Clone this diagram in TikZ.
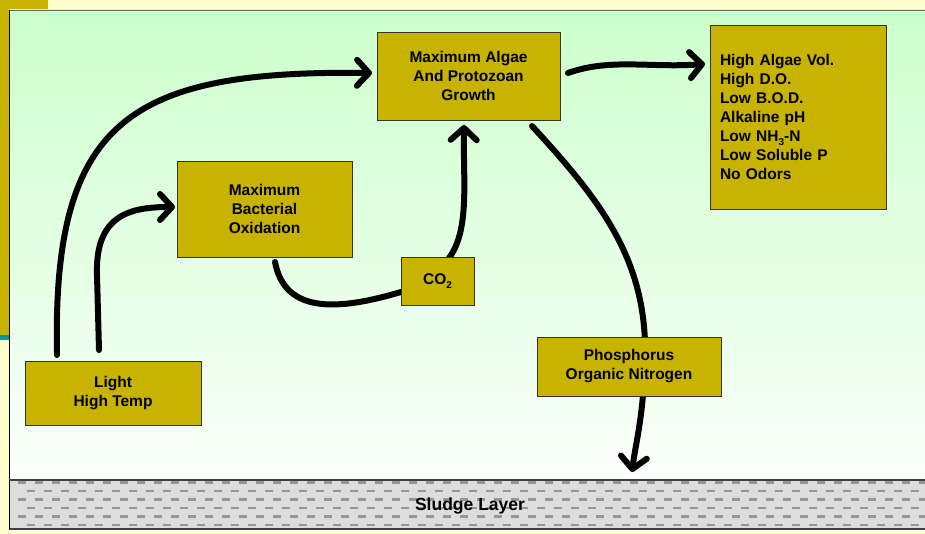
\documentclass[tikz,border=0pt]{standalone}
\usepackage{fontspec}
\setmainfont{Liberation Sans}
\usetikzlibrary{arrows.meta}
\definecolor{bgyellow}{RGB}{255,255,204}
\definecolor{olive}{RGB}{200,180,0}
\definecolor{tealc}{RGB}{0,153,153}
\definecolor{greentop}{RGB}{204,255,204}
\definecolor{sludge}{RGB}{221,221,221}
\definecolor{dashc}{RGB}{150,150,150}
\newcommand{\subtwo}[1]{\raisebox{-0.45ex}{\fontsize{10}{10}\selectfont #1}}
\tikzset{
  box/.style={draw=black!80, line width=0.8pt, fill=olive, font=\bfseries\fontsize{15.5}{19}\selectfont, align=center, inner sep=0pt},
  flow/.style={line width=6pt, line cap=round, black},
  tip/.style={-{Straight Barb[length=12pt,width=26pt,round]}},
}
\begin{document}
\begin{tikzpicture}[x=1pt,y=-1pt]
\useasboundingbox (0,0) rectangle (925,534);
% background
\fill[bgyellow] (0,0) rectangle (925,534);
\fill[olive] (0,0) rectangle (48,10);
\fill[olive] (0,0) rectangle (9,335);
\fill[tealc] (0,335) rectangle (9,340);
% panel
\shade[top color=greentop, bottom color=white] (9,10) rectangle (925,530);
\draw[gray!80!black, line width=1.2pt] (9,10.5) -- (925,10.5);
\draw[black, line width=1.2pt] (9.5,10) -- (9.5,530);
% sludge layer
\fill[sludge] (9,480) rectangle (925,529);
\begin{scope}
\clip (10,481) rectangle (925,528);
\foreach \y/\ph in {482.5/0, 491/8.5, 499.5/0, 508/8.5, 516.5/0, 525/8.5}{
  \draw[dashc, line width=2.5pt, dash pattern=on 8pt off 9pt, dash phase=\ph] (18,\y) -- (925,\y);
}
\end{scope}
\draw[black!75, line width=1.2pt] (9,480) -- (925,480);
\draw[black!75, line width=1.2pt] (9,529) -- (925,529);
\draw[black, line width=1.2pt] (9.5,480) -- (9.5,529);
\node[font=\bfseries\fontsize{17.5}{20}\selectfont] (sl) at (470,506) {Sludge Layer};
% boxes
\node[box, minimum width=183pt, minimum height=88pt] (algae) at (468.5,76) {Maximum Algae\\And Protozoan\\Growth};
\node[box, minimum width=176pt, minimum height=184pt, text width=156pt, align=left, inner xsep=10pt] (out) at (798,117) {High Algae Vol.\\High D.O.\\Low B.O.D.\\Alkaline pH\\Low NH\subtwo{3}-N\\Low Soluble P\\No Odors};
\node[box, minimum width=175pt, minimum height=96pt] (bact) at (264.5,209) {Maximum\\Bacterial\\Oxidation};
\node[box, minimum width=176pt, minimum height=64pt] (light) at (113,393) {Light\\High Temp};
\coordinate (co2c) at (437.5,281);
% coordinates
\coordinate (a1s) at (57,355);
\coordinate (a1e) at (372,73);
\coordinate (a2s) at (99,350);
\coordinate (a2m) at (97,275);
\coordinate (a2e) at (175,207);
\coordinate (a3s) at (275,262);
\coordinate (a3e) at (401,292);
\coordinate (a4s) at (449,258);
\coordinate (a4e) at (464,125);
\coordinate (a5s) at (568,73);
\coordinate (a5e) at (705,64);
\coordinate (a6s) at (532,126);
\coordinate (a6m) at (645,360);
\coordinate (a6e) at (632,472);
% connectors
\draw[flow, tip] (a1s) .. controls (52,120) and (130,70) .. (a1e);
\draw[flow, tip] (a2s) -- (a2m) .. controls (95,215) and (130,207) .. (a2e);
\draw[flow] (a3s) .. controls (285,315) and (340,310) .. (a3e);
\draw[flow, tip] (a4s) .. controls (470,230) and (463,180) .. (a4e);
\draw[flow, tip] (a5s) .. controls (610,58) and (650,68) .. (a5e);
\draw[flow, tip] (a6s) .. controls (600,200) and (648,260) .. (a6m) .. controls (643,420) and (636,440) .. (a6e);
\node[box, minimum width=184pt, minimum height=59pt] (phos) at (629,366.5) {Phosphorus\\Organic Nitrogen};
\node[box, minimum width=73pt, minimum height=48pt] (co2) at (co2c) {CO\subtwo{2}};
\end{tikzpicture}
\end{document}
